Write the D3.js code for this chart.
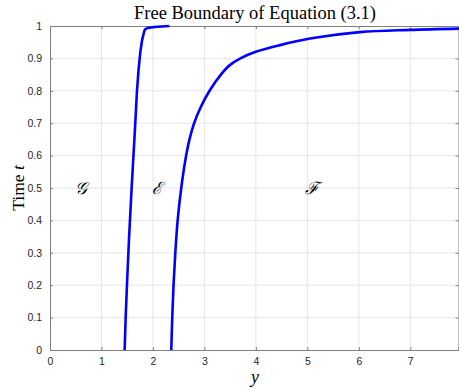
<!DOCTYPE html>
<html><head><meta charset="utf-8">
<script src="https://cdn.jsdelivr.net/npm/d3@7"></script>
<style>body{margin:0;background:#fff}svg{display:block}</style>
</head><body>
<svg id="c" width="459" height="390"></svg>
<script>
const xTicks = [0,1,2,3,4,5,6,7];
const yTicks = [0,0.1,0.2,0.3,0.4,0.5,0.6,0.7,0.8,0.9,1];
const yTickLabels = ["0","0.1","0.2","0.3","0.4","0.5","0.6","0.7","0.8","0.9","1"];
// boundary 1 (between G and E): time t and position y
const b1T = [0, 0.1, 0.2, 0.34, 0.5, 0.68, 0.8, 0.864, 0.92, 0.957, 0.986, 0.991, 0.994, 0.997, 1.0];
const b1Y = [1.45, 1.47, 1.495, 1.534, 1.586, 1.65, 1.69, 1.72, 1.755, 1.79, 1.835, 1.86, 1.9, 2.02, 2.32];
// boundary 2 (between E and F)
const b2T = [0, 0.1, 0.2, 0.3, 0.4, 0.5, 0.6, 0.65, 0.7, 0.75, 0.8, 0.85, 0.88, 0.9, 0.921, 0.941, 0.962, 0.981, 0.988, 0.992];
const b2Y = [2.356, 2.375, 2.40, 2.435, 2.48, 2.55, 2.645, 2.71, 2.80, 2.93, 3.10, 3.32, 3.50, 3.70, 4.01, 4.47, 5.08, 6.02, 6.99, 7.95];
const regionLabels = ["\u{1D4A2}", "\u2130", "\u2131"];
const regionX = [0.6, 2.07, 5.1];
const regionT = [0.5, 0.5, 0.5];
const titleText = "Free Boundary of Equation (3.1)";

const svg = d3.select("#c");
const L = 50, R = 458.5, T = 26, B = 350;
const x = d3.scaleLinear().domain([0, (R - L) / 51.47]).range([L, R]);
const y = d3.scaleLinear().domain([0, 1]).range([B, T]);

// grid
const g = svg.append("g");
g.selectAll(".gx").data(xTicks.filter(d => d > 0)).enter().append("line")
  .attr("x1", d => x(d)).attr("x2", d => x(d)).attr("y1", T).attr("y2", B)
  .attr("stroke", "#e6e6e6").attr("stroke-width", 1);
g.selectAll(".gy").data(yTicks.filter(d => d > 0 && d < 1)).enter().append("line")
  .attr("y1", d => y(d)).attr("y2", d => y(d)).attr("x1", L).attr("x2", R)
  .attr("stroke", "#e6e6e6").attr("stroke-width", 1);

// axes
const ax = d3.axisBottom(x).tickValues(xTicks).tickSize(-3).tickPadding(8).tickFormat(d3.format("d"));
const ay = d3.axisLeft(y).tickValues(yTicks).tickSize(-3).tickPadding(8).tickFormat((d, i) => yTickLabels[i]);
const axT = d3.axisTop(x).tickValues(xTicks).tickSize(-3).tickFormat("");
const ayR = d3.axisRight(y).tickValues(yTicks).tickSize(-3).tickFormat("");
function style(sel) {
  sel.select(".domain").attr("stroke", "#7f7f7f").attr("stroke-width", 1);
  sel.selectAll(".tick line").attr("stroke", "#7f7f7f");
  sel.selectAll(".tick text").attr("fill", "#262626").style("font-family", "Liberation Sans, Arial, sans-serif").style("font-size", "10.5px");
}
svg.append("g").attr("transform", `translate(0,${T})`).call(axT).call(style);
svg.append("g").attr("transform", `translate(${R},0)`).call(ayR).call(style);
svg.append("g").attr("transform", `translate(0,${B})`).call(ax).call(style);
svg.append("g").attr("transform", `translate(${L},0)`).call(ay).call(style);

// curves
const line1 = d3.line().x(d => x(d[1])).y(d => y(d[0])).curve(d3.curveLinear);
const line2 = d3.line().x(d => x(d[1])).y(d => y(d[0])).curve(d3.curveCatmullRom.alpha(0.5));
[[b1T, b1Y, line1], [b2T, b2Y, line2]].forEach(([ts, ys, ln]) => {
  svg.append("path").datum(ts.map((t, i) => [t, ys[i]]))
    .attr("d", ln).attr("fill", "none").attr("stroke", "#0000ff")
    .attr("stroke-width", 2.6).attr("stroke-linejoin", "round");
});

// region labels
svg.selectAll(".rl").data(regionLabels).enter().append("text")
  .attr("x", (d, i) => x(regionX[i])).attr("y", (d, i) => y(regionT[i]) + 6)
  .attr("text-anchor", "middle")
  .style("font-family", "DejaVu Serif, serif").style("font-size", "17px").style("font-style", "italic")
  .attr("fill", "#000").text(d => d);

// title
svg.append("text").attr("x", 255).attr("y", 19).attr("text-anchor", "middle")
  .style("font-family", "Liberation Serif, serif").style("font-size", "18.5px").attr("fill", "#000")
  .text(titleText);

// x label
svg.append("text").attr("x", 255).attr("y", 383).attr("text-anchor", "middle")
  .style("font-family", "Liberation Serif, serif").style("font-size", "18px").style("font-style", "italic")
  .text("y");

// y label
const yl = svg.append("text").attr("transform", `translate(24,${y(0.5)}) rotate(-90)`)
  .attr("text-anchor", "middle")
  .style("font-family", "Liberation Serif, serif").style("font-size", "17.5px");
yl.append("tspan").text("Time ");
yl.append("tspan").style("font-style", "italic").text("t");
</script>
</body></html>
